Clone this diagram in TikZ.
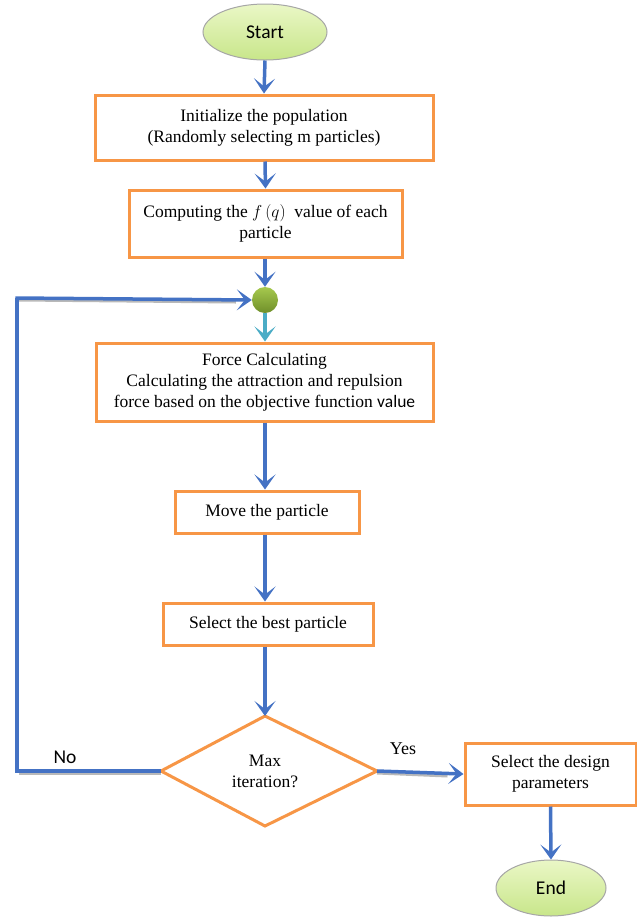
\documentclass[tikz,border=0pt]{standalone}
\usepackage{fontspec}
\setmainfont{Liberation Serif}
\newfontfamily\calib{Carlito}
\usetikzlibrary{arrows.meta,shapes.geometric}
\definecolor{boxorange}{HTML}{F79646}
\definecolor{arrblue}{HTML}{4472C4}
\definecolor{arrcyan}{HTML}{4BACC6}
\definecolor{lgreen}{HTML}{EAF7C6}
\definecolor{dgreen}{HTML}{C8E68A}
\definecolor{jtop}{HTML}{A6C94E}
\definecolor{jbot}{HTML}{6F8F2A}
\begin{document}
\begin{tikzpicture}[x=1pt,y=-1pt,
  procbox/.style={draw=boxorange,line width=3pt,fill=white,align=center,inner sep=0pt,
    font=\fontsize{17.5}{21}\selectfont},
  term/.style={ellipse,draw=gray!70,line width=1pt,top color=lgreen,bottom color=dgreen,
    inner sep=0pt,font=\calib\fontsize{19.5}{23}\selectfont},
  tip/.style={-{Stealth[length=15pt,width=21pt,inset=8pt]}},
  flow/.style={draw=arrblue,line width=3.5pt,tip},
  flowline/.style={draw=arrblue,line width=3.5pt},
  shadowline/.style={draw=gray!55,line width=3pt}]
\useasboundingbox (0,0) rectangle (637,922);
% nodes
\node[term,minimum width=124pt,minimum height=56pt] (start) at (265,32) {Start};
\node[procbox,minimum width=338pt,minimum height=65pt] (init) at (264,127.5)
  {Initialize the population\\(Randomly selecting m particles)};
\node[procbox,minimum width=273pt,minimum height=67pt] (comp) at (265.5,223.5)
  {Computing the $f\,(q)$\ \ value of each\\particle};
\node[circle,minimum size=26pt,inner sep=0pt,top color=jtop,bottom color=jbot,draw=none] (junc) at (265,300) {};
\node[procbox,minimum width=337pt,minimum height=78pt] (force) at (264.5,382)
  {Force Calculating\\Calculating the attraction and repulsion\\force based on the objective function {\calib value}};
\node[procbox,minimum width=184pt,minimum height=42pt] (move) at (267,512) {Move the particle};
\node[procbox,minimum width=210pt,minimum height=42pt] (best) at (268,624) {Select the best particle};
\coordinate (dT) at (265,716);
\coordinate (dL) at (161,771);
\coordinate (dR) at (377,771);
\coordinate (dB) at (265,826);
\draw[boxorange,line width=3pt,line join=miter,fill=white] (dT) -- (dR) -- (dB) -- (dL) -- cycle;
\node[align=center,font=\fontsize{17.5}{21}\selectfont] (dec) at (265,771) {Max\\iteration?};
\node[procbox,minimum width=171pt,minimum height=62pt] (design) at (550.5,774) {Select the design\\parameters};
\node[term,minimum width=110pt,minimum height=56pt] (stop) at (551,888) {End};
\coordinate (cL) at (17,771);
\coordinate (cT) at (17,298);
\node[font=\calib\fontsize{19.5}{23}\selectfont] (no) at (65,757) {No};
\node[font=\fontsize{18}{21}\selectfont] (yes) at (403,749) {Yes};
% connectors
\draw[flow] (start.south) -- (init.north);
\draw[flow] ([xshift=1pt]init.south) -- ([xshift=0pt]comp.north);
\draw[flow] ([xshift=-0.5pt]comp.south) -- (junc.north);
\draw[draw=arrcyan,line width=3.5pt,tip] (junc.south) -- ([xshift=0.5pt]force.north);
\draw[flow] ([xshift=0.5pt]force.south) -- ([xshift=-2pt]move.north);
\draw[flow] ([xshift=-2pt]move.south) -- ([xshift=-3pt]best.north);
\draw[flow] ([xshift=-3pt]best.south) -- (dT);
\draw[shadowline] ([yshift=-2pt]dL) -- ([yshift=-2pt,xshift=2pt]cL);
\draw[shadowline] ([xshift=2pt,yshift=-2pt]cT) -- ([xshift=-16pt,yshift=-2pt]junc.west);
\draw[flowline] (dL) -- (cL) -- (cT);
\draw[flow] ([xshift=-1.75pt]cT) -- (junc.west);
\draw[shadowline] ([yshift=-2pt]dR) -- ([yshift=-2pt,xshift=-16pt]design.west);
\draw[flow] (dR) -- (design.west);
\draw[flow] (design.south) -- (stop.north);
\end{tikzpicture}
\end{document}
